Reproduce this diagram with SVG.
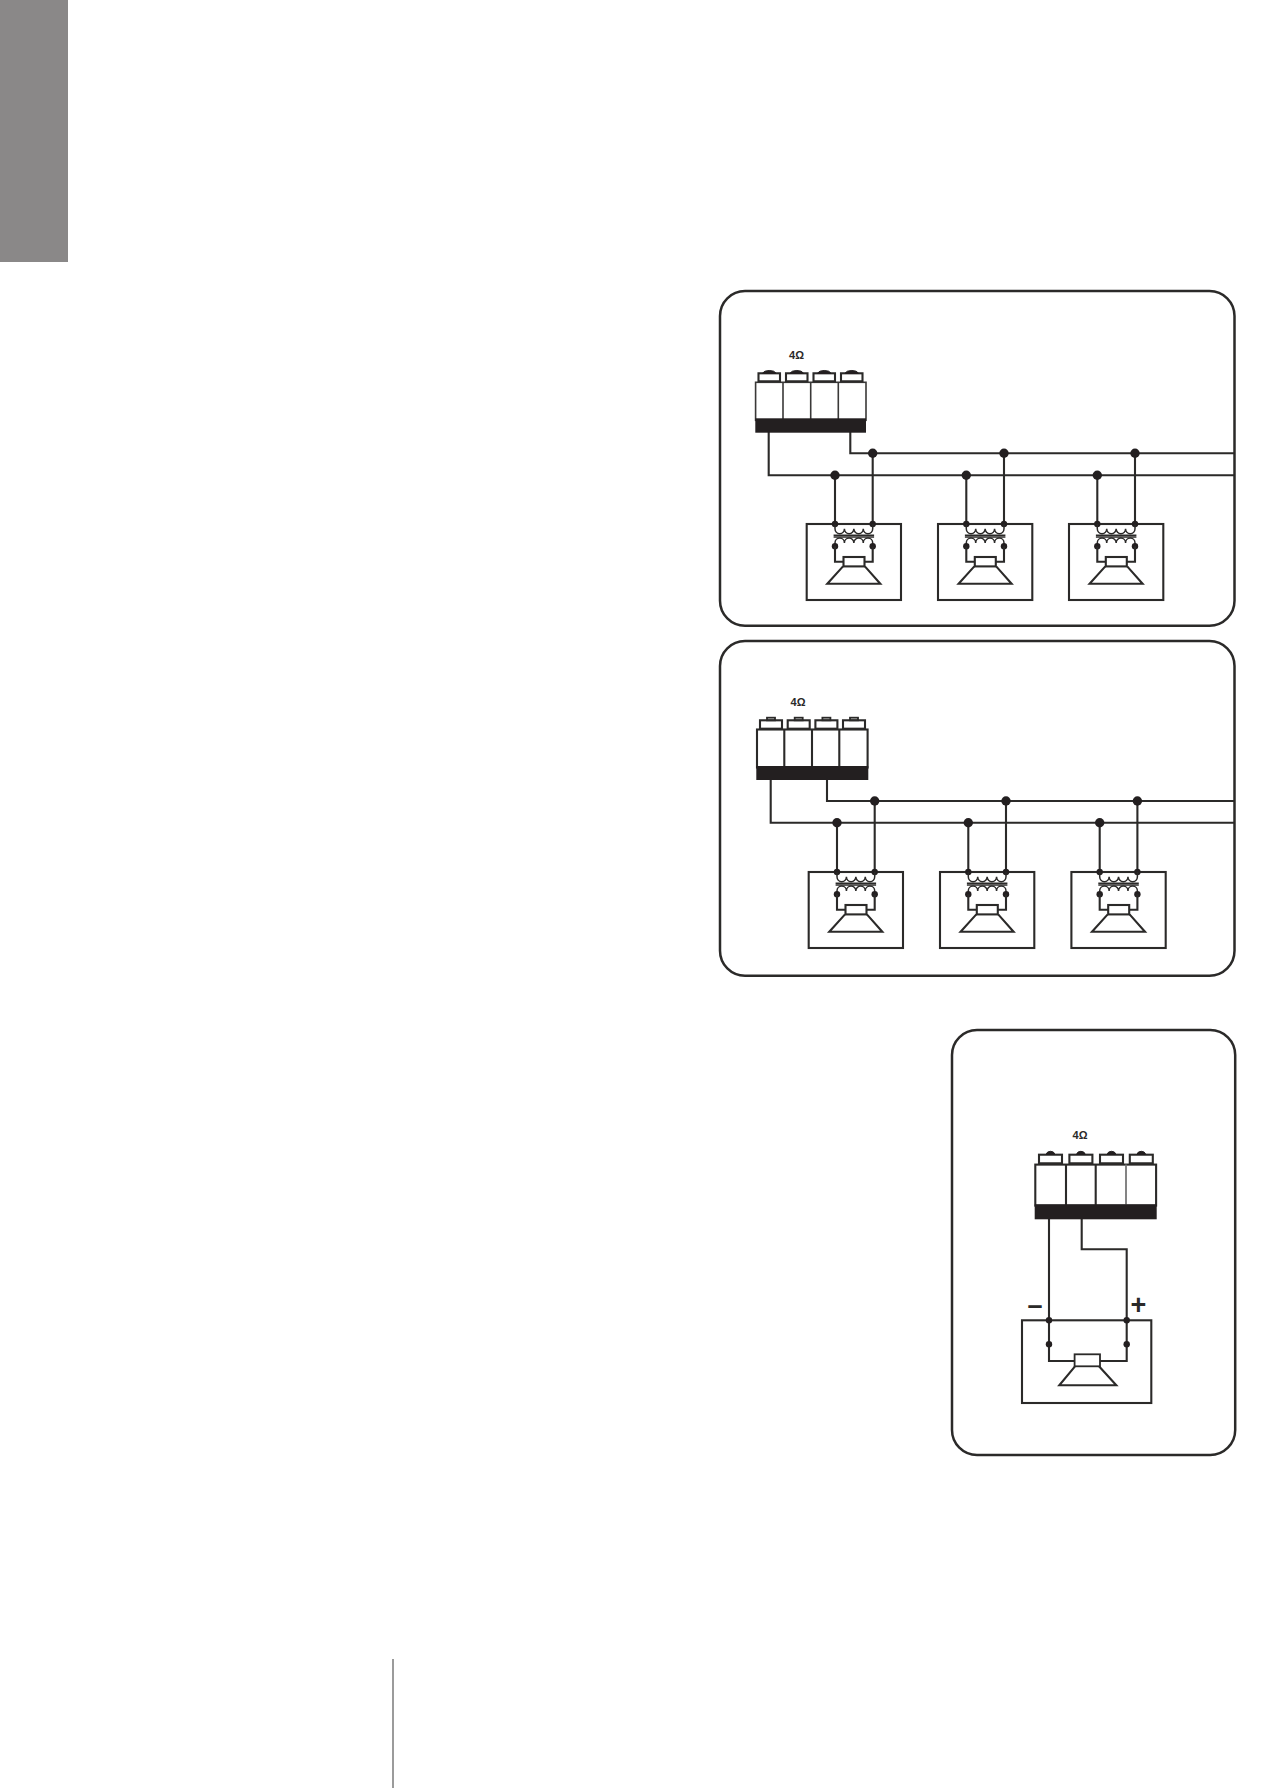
<svg xmlns="http://www.w3.org/2000/svg" width="1263" height="1788" viewBox="0 0 1263 1788">
<style>
.panel{fill:#fff;stroke:#2b2a29;stroke-width:2.5}
.ln{fill:none;stroke:#2b2a29;stroke-width:2.1}
.thin{fill:none;stroke:#2b2a29;stroke-width:1.8}
.coil{fill:none;stroke:#2b2a29;stroke-width:1.5}
.cell{fill:#fff;stroke:#3a3938;stroke-width:1.6}
.band{fill:#231f20}
.dot{fill:#231f20}
.ohm{font-family:"Liberation Sans",Arial,sans-serif;font-size:11px;font-weight:bold;fill:#2b2a29;text-anchor:middle}
.sign{font-family:"Liberation Sans",Arial,sans-serif;font-size:27px;font-weight:bold;fill:#2b2a29;text-anchor:middle}
</style>
<defs>
<g id="cap1"><rect x="0" y="0" width="21.5" height="8" class="ln"/><path d="M4 0Q5.5-2.8 10.8-2.8T17.5 0Z" fill="#231f20" stroke="#231f20"/></g>
<g id="cap2"><rect x="0" y="0" width="22" height="8.4" class="ln"/><rect x="7" y="-2.6" width="8" height="2.6" class="thin"/></g>
<g id="cap3"><rect x="0" y="0" width="23" height="8.6" class="ln"/><path d="M7-.2Q8-3.4 11.5-3.4T16-.2Z" fill="#231f20" stroke="#231f20"/></g>
<g id="unit">
<rect class="ln" x="-28.3" y="0" width="94.3" height="76"/>
<circle class="dot" cx="0" cy="0" r="3.2"/><circle class="dot" cx="37.7" cy="0" r="3.2"/>
<path class="coil" d="M0 0V4.8A4.71 4.9 0 0 0 9.42 4.8A4.71 4.9 0 0 0 18.85 4.8A4.71 4.9 0 0 0 28.27 4.8A4.71 4.9 0 0 0 37.7 4.8V0"/>
<path class="coil" d="M-1.4 11.3H39.1M-1.4 13H39.1" stroke-width="1.3"/>
<path class="coil" d="M0 22.3V19A4.71 4.9 0 0 1 9.42 19A4.71 4.9 0 0 1 18.85 19A4.71 4.9 0 0 1 28.27 19A4.71 4.9 0 0 1 37.7 19V22.3"/>
<circle class="dot" cx="0" cy="22.3" r="3.2"/><circle class="dot" cx="37.7" cy="22.3" r="3.2"/>
<path class="ln" d="M0 22.3V37.7H8.5M37.7 22.3V37.7H29.3"/>
<rect class="ln" x="8.5" y="33" width="21" height="9.4" fill="#fff"/>
<path class="ln" d="M8 42.4L-7.7 59.7H45.3L29.9 42.4"/>
</g>
</defs>

<rect id="side-tab" x="0" y="0" width="68" height="262" fill="#8a8888"/>
<line id="rule" x1="393" y1="1659" x2="393" y2="1788" stroke="#9b9b9b" stroke-width="2"/>

<g transform="translate(1 0)">
<g id="panel-a"><rect class="panel" x="719" y="291" width="514.5" height="334.7" rx="25"/></g>
<g id="panel-b"><rect class="panel" x="719" y="641" width="514.5" height="334.7" rx="25"/></g>
<g id="panel-c"><rect class="panel" x="951" y="1030" width="283.2" height="425" rx="25"/></g>

<g id="connectors">
<path class="ln" d="M767.7 432V475.3H1233.5M849.3 432V453.3H1233.5"/>
<path class="ln" d="M834 475.3V524M871.7 453.3V524M965.3 475.3V524M1003 453.3V524M1096.3 475.3V524M1134 453.3V524"/>
<g class="dot"><circle cx="834" cy="475.3" r="4.7"/><circle cx="871.7" cy="453.3" r="4.7"/><circle cx="965.3" cy="475.3" r="4.7"/><circle cx="1003" cy="453.3" r="4.7"/><circle cx="1096.3" cy="475.3" r="4.7"/><circle cx="1134" cy="453.3" r="4.7"/></g>
<path class="ln" d="M769.7 780V822.7H1233.5M826 780V801H1233.5"/>
<path class="ln" d="M836 822.7V872M873.7 801V872M967.3 822.7V872M1005 801V872M1098.7 822.7V872M1136.4 801V872"/>
<g class="dot"><circle cx="836" cy="822.7" r="4.7"/><circle cx="873.7" cy="801" r="4.7"/><circle cx="967.3" cy="822.7" r="4.7"/><circle cx="1005" cy="801" r="4.7"/><circle cx="1098.7" cy="822.7" r="4.7"/><circle cx="1136.4" cy="801" r="4.7"/></g>
<path class="ln" d="M1048 1219V1361H1073.3M1080.7 1219V1249.3H1125.7V1361H1099"/>
</g>

<g id="amp-a">
<text class="ohm" x="795.5" y="359">4Ω</text>
<rect class="cell" x="754.6" y="382.3" width="110.4" height="38"/>
<path class="cell" d="M782 382.3V420M809.7 382.3V420M837.3 382.3V420"/>
<rect class="band" x="754.3" y="418.3" width="110.7" height="14.4"/>
<use href="#cap1" x="757.5" y="373.3"/><use href="#cap1" x="785" y="373.3"/><use href="#cap1" x="812.5" y="373.3"/><use href="#cap1" x="840" y="373.3"/>
</g>
<g id="amp-b">
<text class="ohm" x="797" y="706">4Ω</text>
<rect class="ln" x="756" y="729.5" width="110.6" height="38" fill="#fff"/>
<path class="ln" d="M783.3 729.5V767M811 729.5V767M838.3 729.5V767"/>
<rect class="band" x="755.3" y="766" width="112" height="14"/>
<use href="#cap2" x="759" y="720.3"/><use href="#cap2" x="786.7" y="720.3"/><use href="#cap2" x="814.4" y="720.3"/><use href="#cap2" x="842" y="720.3"/>
</g>
<g id="amp-c">
<text class="ohm" x="1079" y="1139">4Ω</text>
<rect class="ln" x="1034.3" y="1164.6" width="120.8" height="41" fill="#fff"/>
<path class="ln" d="M1065 1164.6V1205M1094.7 1164.6V1205"/><path fill="none" stroke="#777" stroke-width="1.8" d="M1125 1164.6V1205"/>
<rect class="band" x="1033.7" y="1204.3" width="122" height="15"/>
<use href="#cap3" x="1038" y="1154.7"/><use href="#cap3" x="1068.4" y="1154.7"/><use href="#cap3" x="1099" y="1154.7"/><use href="#cap3" x="1128.8" y="1154.7"/>
</g>

<g id="speaker-a1"><use href="#unit" x="834" y="524"/></g>
<g id="speaker-a2"><use href="#unit" x="965.3" y="524"/></g>
<g id="speaker-a3"><use href="#unit" x="1096.3" y="524"/></g>
<g id="speaker-b1"><use href="#unit" x="836" y="872"/></g>
<g id="speaker-b2"><use href="#unit" x="967.3" y="872"/></g>
<g id="speaker-b3"><use href="#unit" x="1098.7" y="872"/></g>
<g id="speaker-c">
<rect class="ln" x="1021" y="1320.3" width="129.3" height="82.7"/>
<g class="dot"><circle cx="1048" cy="1320.3" r="3.2"/><circle cx="1125.7" cy="1320.3" r="3.2"/><circle cx="1048" cy="1344.3" r="3.2"/><circle cx="1125.7" cy="1344.3" r="3.2"/></g>
<rect class="thin" x="1073.6" y="1354.3" width="25.4" height="12" fill="#fff"/>
<path class="ln" d="M1074 1366.3L1058.3 1385.3H1115.3L1098 1366.3"/>
<text class="sign" x="1034" y="1314">–</text>
<text class="sign" x="1137.3" y="1314">+</text>
</g>
</g>
</svg>
